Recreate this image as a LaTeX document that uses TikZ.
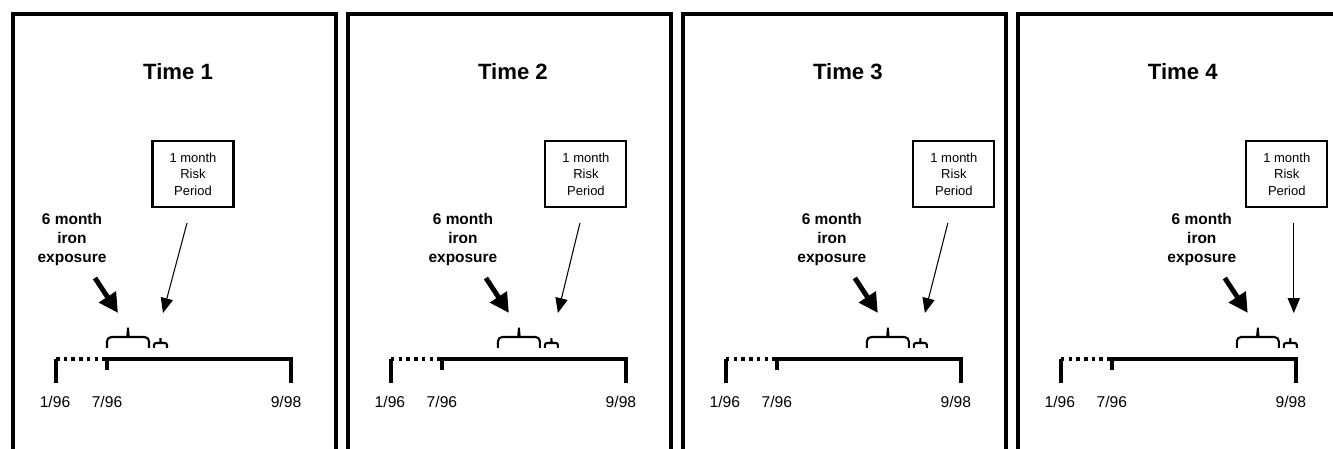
\documentclass[tikz,border=0pt]{standalone}
\usepackage{fontspec}
\setmainfont{Liberation Sans}
\usetikzlibrary{arrows.meta}

\tikzset{
  panelframe/.style={line width=2.4pt},
  timetitle/.style={font=\fontsize{12.6}{15}\selectfont\bfseries},
  riskbox/.style={draw, line width=1.2pt, minimum width=1.62cm, minimum height=1.32cm,
    inner sep=0pt, align=center, font=\fontsize{7.4}{9.4}\selectfont},
  expolabel/.style={align=center, font=\fontsize{8.8}{10.6}\selectfont\bfseries},
  datelabel/.style={font=\fontsize{8.9}{10.7}\selectfont},
  bigarrow/.style={line width=2.8pt, -{Triangle[width=11pt,length=11pt]}},
  thinarrow/.style={line width=0.6pt, -{Triangle[width=7pt,length=8.5pt]}},
  timeline/.style={line width=2.3pt},
  dottedline/.style={line width=2.3pt, dash pattern=on 2pt off 2.4pt},
  bracesix/.style={line width=1.2pt, rounded corners=2.5pt},
  braceone/.style={line width=1.2pt, rounded corners=1.2pt},
}

\begin{document}
\begin{tikzpicture}[x=0.02cm, y=0.02cm]
    \useasboundingbox (0,0) rectangle (1333,449);
    \clip (0,0) rectangle (1333,449);

    % One panel for each time point
    \foreach \k/\b/\bx/\ts/\tt in {1/94/180/174/150, 2/150/238/232/210, 3/184/271/265/242, 4/219/269/276/276} {
    \begin{scope}[xshift=\k*6.7cm-6.44cm]
        % Draw frame and title
        \draw[panelframe] (0,-10) -- (0,435) -- (323,435) -- (323,-10);
        \node[timetitle] (title\k) at (165,377) {Time \k};

        % Draw risk period box and exposure label
        \node[riskbox] (box\k) at (\bx,275) {1 month\\Risk\\Period};
        \node[expolabel] (expo\k) at (\b-35,209.5) {6 month\\iron\\exposure};

        % Draw arrows
        \coordinate (expotail\k) at (\b-12,171);
        \coordinate (expotip\k) at (\b+11,136);
        \coordinate (risktail\k) at (\ts,226);
        \coordinate (risktip\k) at (\tt,136);
        \draw[bigarrow] (expotail\k) -- (expotip\k);
        \draw[thinarrow] (risktail\k) -- (risktip\k);

        % Draw braces
        \draw[bracesix] (\b,101) |- (\b+17,112) to[out=0,in=-90] (\b+21,124)
            to[out=-90,in=180] (\b+25,112) -| (\b+42,101);
        \draw[braceone] (\b+47,101) |- (\b+51,106) to[out=0,in=-90] (\b+53.5,112)
            to[out=-90,in=180] (\b+56,106) -| (\b+60,101);

        % Draw timeline
        \coordinate (start\k) at (43,90);
        \coordinate (mid\k) at (94,90);
        \coordinate (end\k) at (278,90);
        \draw[timeline] (43,66) -- (start\k);
        \draw[dottedline] (start\k) -- (mid\k);
        \draw[timeline] (94,79) -- (mid\k) -- (end\k) -- (278,66);

        % Labels
        \node[datelabel] (jan\k) at (42,47) {1/96};
        \node[datelabel] (jul\k) at (94,47) {7/96};
        \node[datelabel] (sep\k) at (273,47) {9/98};
    \end{scope}
    }
\end{tikzpicture}
\end{document}
